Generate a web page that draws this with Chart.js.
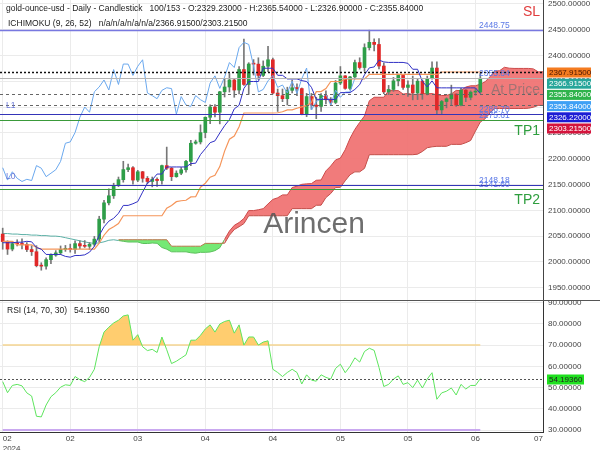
<!DOCTYPE html>
<html>
<head>
<meta charset="utf-8">
<script src="https://cdn.jsdelivr.net/npm/chart.js@4.4.1/dist/chart.umd.min.js"></script>
<style>
  html, body { margin: 0; padding: 0; background: #fff; }
  #wrap { position: relative; width: 600px; height: 450px; overflow: hidden; }
  #main { position: absolute; left: 0; top: 0; }
  #rsi { position: absolute; left: 0; top: 300px; }
</style>
</head>
<body>
<div id="wrap">
  <canvas id="main" width="600" height="300"></canvas>
  <canvas id="rsi" width="600" height="150"></canvas>
</div>
<script>
'use strict';

// daily candles, 02 Feb .. 20 Jun 2024
var opens = [2054.0,2039.5,2024.9,2035.4,2035.0,2033.9,2024.1,2019.8,1992.8,1991.9,
  2004.4,2013.3,2017.6,2024.5,2025.9,2024.3,2035.5,2031.0,2030.3,2034.2,
  2044.2,2082.9,2114.5,2128.2,2148.2,2159.4,2178.9,2182.5,2158.6,2174.7,
  2162.0,2155.9,2160.1,2157.7,2186.6,2181.6,2165.2,2171.9,2178.6,2194.8,
  2229.9,2232.5,2250.6,2280.2,2300.1,2290.0,2329.6,2338.9,2352.5,2333.0,
  2372.7,2343.8,2383.4,2383.2,2361.3,2379.1,2391.6,2327.2,2322.1,2316.2,
  2332.4,2337.4,2335.8,2286.2,2320.3,2303.9,2301.3,2322.3,2314.2,2309.0,
  2346.5,2360.5,2336.2,2358.4,2386.2,2376.6,2415.2,2425.4,2421.3,2379.5,
  2329.4,2334.1,2350.8,2361.3,2338.1,2342.8,2327.3,2350.1,2326.4,2355.0,
  2375.6,2294.5,2310.8,2316.0,2325.2,2303.8,2332.8,2318.9,2329.0,2329.23];
var highs = [2065.5,2041.0,2039.0,2043.0,2045.0,2037.5,2031.5,2031.5,1998.5,2008.0,
  2015.5,2022.0,2031.0,2032.0,2034.5,2041.0,2041.0,2041.5,2037.5,2049.5,
  2088.5,2119.5,2141.5,2152.5,2164.5,2195.0,2189.5,2184.5,2177.5,2175.5,
  2165.5,2164.5,2163.0,2187.5,2222.5,2183.0,2176.5,2183.0,2197.0,2235.5,
  2236.0,2265.5,2281.0,2304.5,2305.0,2330.5,2354.0,2365.0,2354.0,2378.5,
  2431.5,2386.0,2392.0,2395.5,2389.5,2417.5,2395.0,2335.0,2335.0,2338.5,
  2352.5,2345.0,2337.0,2326.5,2326.5,2319.0,2326.0,2331.5,2318.5,2351.5,
  2378.5,2361.0,2359.5,2391.0,2395.5,2422.5,2448.93,2432.0,2432.5,2385.5,
  2342.0,2357.5,2364.0,2363.0,2351.0,2360.0,2354.0,2352.5,2360.0,2387.5,
  2387.5,2313.0,2318.0,2342.5,2325.5,2336.5,2334.0,2331.5,2336.0,2365.54];
var lows = [2024.6,2014.5,2021.5,2031.0,2025.0,2020.0,2012.5,1990.5,1984.0,1986.0,
  1996.5,2011.0,2014.5,2020.5,2019.0,2016.5,2025.5,2028.0,2024.0,2030.5,
  2039.0,2075.5,2110.5,2123.0,2146.0,2154.5,2175.0,2150.5,2155.5,2154.5,
  2151.5,2145.5,2146.5,2150.5,2179.0,2157.5,2164.0,2169.0,2174.0,2186.5,
  2228.0,2228.5,2240.5,2268.0,2281.0,2267.5,2319.5,2329.0,2319.0,2325.5,
  2342.0,2324.5,2362.0,2353.5,2359.0,2368.5,2325.5,2291.5,2310.5,2304.0,
  2327.5,2322.0,2285.0,2281.5,2295.5,2277.5,2291.5,2306.0,2303.0,2306.5,
  2343.5,2334.5,2333.0,2354.5,2373.5,2369.5,2410.5,2409.0,2374.0,2326.0,
  2324.0,2330.5,2341.0,2334.0,2320.5,2314.0,2314.5,2315.0,2323.5,2354.0,
  2287.2,2286.9,2298.5,2304.0,2301.5,2302.0,2310.5,2314.0,2323.0,2326.9];
var closes = [2039.5,2024.9,2035.4,2035.0,2033.9,2024.1,2019.8,1992.8,1991.9,2004.4,
  2013.3,2017.6,2024.5,2025.9,2024.3,2035.5,2031.0,2030.3,2034.2,2044.2,
  2082.9,2114.5,2128.2,2148.2,2159.4,2178.9,2182.5,2158.6,2174.7,2162.0,
  2155.9,2160.1,2157.7,2186.6,2181.6,2165.2,2171.9,2178.6,2194.8,2229.9,
  2232.5,2250.6,2280.2,2300.1,2290.0,2329.6,2338.9,2352.5,2333.0,2372.7,
  2343.8,2383.4,2383.2,2361.3,2379.1,2391.6,2327.2,2322.1,2316.2,2332.4,
  2337.4,2335.8,2286.2,2320.3,2303.9,2301.3,2322.3,2314.2,2309.0,2346.5,
  2360.5,2336.2,2358.4,2386.2,2376.6,2415.2,2425.4,2421.3,2379.5,2329.4,
  2334.1,2350.8,2361.3,2338.1,2342.8,2327.3,2350.1,2326.4,2355.0,2375.6,
  2294.5,2310.8,2316.0,2325.2,2303.8,2332.8,2318.9,2329.0,2329.2,2355.84];

// ichimoku lines
var tenkan = [2037.25,2037.25,2037.25,2038.25,2038.25,2040,2039,2028,2024.75,2014.5,
  2014.5,2014.5,2014.5,2010.75,2009.25,2012.5,2012.5,2013.75,2019,2030.25,
  2051.5,2068,2079,2084.5,2094.25,2109.5,2109.5,2112.75,2117,2135.25,
  2152.75,2159,2170.25,2170.25,2184,2184,2184,2184,2184,2190.5,
  2191.25,2208,2219.25,2231,2234.5,2249.75,2264,2275.75,2296.5,2303.5,
  2336,2349.5,2349.5,2349.5,2375.25,2375.25,2375.25,2361.5,2361.5,2354.5,
  2354.5,2354.5,2351.25,2349.5,2338.25,2315,2315,2315,2315,2314.5,
  2328,2328,2328,2334.25,2343.5,2362.75,2375.97,2377.72,2390.97,2387.47,
  2386.47,2386.47,2386.47,2386.47,2384.72,2373.25,2373.25,2349.75,2339,2350.75,
  2337.35,2337.2,2337.2,2337.2,2337.2,2337.2,2337.2,2337.2,2337.2,2326.22];
var kijun = [2040,2040,2040,2033.25,2033.25,2033.25,2033.25,2028,2024.75,2024.75,
  2024.75,2024.75,2024.75,2024.75,2024.75,2024.75,2024.75,2024.75,2024.75,2024.75,
  2036.25,2051.75,2062.75,2068.25,2074.25,2089.5,2089.5,2089.5,2089.5,2089.5,
  2089.5,2089.5,2089.5,2089.5,2104.25,2109.5,2116.75,2118.5,2119.5,2126,
  2126.25,2144.75,2152.5,2164.25,2167.75,2184.75,2214.75,2237.75,2244,2262,
  2288.5,2288.5,2288.5,2288.5,2288.5,2288.5,2288.5,2289,2291,2294.5,
  2294.5,2297.75,2300.25,2302.75,2309,2329.75,2330,2336,2349.5,2349.5,
  2349.5,2354.5,2354.5,2354.5,2354.5,2354.5,2363.22,2363.22,2363.22,2363.22,
  2363.22,2363.22,2363.22,2363.22,2363.22,2363.22,2363.22,2363.22,2363.22,2363.22,
  2363.22,2367.92,2367.92,2367.92,2367.92,2367.92,2367.92,2367.92,2367.92,2367.92];
// senkou span A, bar 0 .. 125 (26 bars ahead)
var spanA = [2055,2055,2054,2054,2053,2053,2052,2052,2051,2051,
  2050,2050,2049,2047,2045,2043,2041,2039,2037,2036,
  2037,2039,2042,2043,2041.5,2040,
  2038.63,2038.63,2038.63,2035.75,2035.75,2036.63,2036.13,2028,2024.75,2019.63,
  2019.63,2019.63,2019.63,2017.75,2017,2018.63,2018.63,2019.25,2021.88,2027.5,
  2043.88,2059.88,2070.88,2076.38,2084.25,2099.5,2099.5,2101.13,2103.25,2112.38,
  2121.13,2124.25,2129.88,2129.88,2144.13,2146.75,2150.38,2151.25,2151.75,2158.25,
  2158.75,2176.38,2185.88,2197.63,2201.13,2217.25,2239.38,2256.75,2270.25,2282.75,
  2312.25,2319,2319,2319,2331.88,2331.88,2331.88,2325.25,2326.25,2324.5,
  2324.5,2326.13,2325.75,2326.13,2323.63,2322.38,2322.5,2325.5,2332.25,2332,
  2338.75,2341.25,2341.25,2344.38,2349,2358.63,2369.59,2370.47,2377.09,2375.34,
  2374.84,2374.84,2374.84,2374.84,2373.97,2368.23,2368.23,2356.48,2351.11,2356.98,
  2350.28,2352.56,2352.56,2352.56,2352.56,2352.56,2352.56,2352.56,2352.56,2347.07];
// senkou span B, bar 24 .. 125
var spanBStart = 24;
var spanB = [2043,2043,2043,2043,2043,2043,2043,2043,2043,2043,2043,
  2030.5,2030.5,2030.5,2030.5,2030.5,2030.5,2030.5,
  2036,2036,2036,2036,2036.25,
  2051.75,2062.75,2068.25,2074.25,2089.5,
  2089.5,2089.5,2089.5,2089.5,2089.5,2089.5,2089.5,2089.5,
  2103.25,2103.25,2103.25,2103.25,2103.25,2109.75,2110,
  2124.75,2132.5,2144.25,2144.5,2157.25,2169,2174.5,2174.5,2181.25,2207.75,
  2207.75,2207.75,2207.75,2207.75,2207.75,2207.75,2207.75,2207.75,2207.75,
  2208.75,2214,2221.25,2223,2224,2224,2224,2227.75,2227.75,2227.75,
  2231,2235.25,2253.5,2271,2277.25,2288.5,
  2297.22,2297.22,2297.22,2297.22,2297.22,2297.22,2297.22,2297.72,2299.72,2303.22,2303.22,
  2306.47,2308.97,2311.47,2317.72,2338.47,2338.72,2344.72,2358.22,2358.22,2358.22,
  2363.22,2363.22,2363.22];

var rsi = [52.8,47.6,51.0,51.5,50.8,47.5,46.0,36.5,36.2,41.8,
  45.7,47.6,50.2,51.3,51.0,55.2,53.7,52.8,54.8,58.6,
  69.2,76.1,78.4,80.4,81.7,83.7,84.2,72.3,74.9,69.2,
  67.4,68.0,66.5,73.8,67.8,61.3,62.4,63.9,65.4,72.3,
  72.3,74.6,77.6,79.5,76.1,79.9,81.1,81.7,75.6,79.5,
  70.0,73.8,73.8,70.0,71.4,72.0,58.6,57.1,55.2,57.1,
  58.6,57.1,51.7,56.0,53.5,53.0,56.0,54.8,54.0,59.0,
  61.0,57.0,60.0,64.0,62.0,67.0,68.5,67.5,59.5,50.5,
  51.5,54.0,55.5,51.5,52.3,50.0,53.5,49.8,54.0,57.0,
  44.5,47.5,48.3,49.8,46.5,51.5,49.3,51.0,51.0,54.1936];
var rsiBands = [70, 30];

var xTickPos = [0, 14, 28, 42, 56, 70, 84, 98, 112];
var xTickLabels = [['02', '2024'], '02', '03', '04', '04', '05', '05', '06', '07'];
var priceTicks = [1950, 2000, 2050, 2100, 2150, 2200, 2250, 2300, 2350, 2400, 2450, 2500];
var rsiTicks = [30, 40, 50, 60, 70, 80, 90];

var levelValues = [2448.75, 2367.915, 2355.84, 2326.22, 2303.215, 2286.70, 2275.61, 2148.18, 2141.60];
var levelLabels = [2448.75, 2355.84, 2286.70, 2275.61, 2148.18, 2141.60];
var tagValues = [2367.915, 2366.915, 2355.84, 2355.84, 2326.22, 2303.215];

var AXIS_W = 57;
var X_MIN = -0.56, X_MAX = 112;
var GRID = '#ebebeb';
var FONT = '"Liberation Sans", Arial, sans-serif';
Chart.defaults.font.family = FONT;

function pts(arr, start) {
  return arr.map(function (v, n) { return { x: n + start, y: v }; });
}
function aAbove(n) { return spanA[n + spanBStart] > spanB[n]; }

var levelStyle = [
  { color: '#7878e0', width: 1.3 },
  { color: '#111', width: 1.5, dash: [2, 2] },
  { color: '#b4b4b4', width: 1.2 },
  { color: '#666', width: 1, dash: [3, 3] },
  { color: '#666', width: 1, dash: [3, 3] },
  { color: '#3434b8', width: 1.2 },
  { color: '#3a9a3a', width: 1.2 },
  { color: '#3434b8', width: 1.2 },
  { color: '#3a9a3a', width: 1.2 }
];
var tagFill = ['#f47b20', '#26a69a', '#2eb34b', '#3fa0f5', '#1c1cd4', '#d4143c'];
var tagInk = ['#4a1500', '#fff', '#fff', '#fff', '#fff', '#fff'];

var mainOverlay = {
  id: 'mainOverlay',
  afterDatasetsDraw: function (chart) {
    var ctx = chart.ctx, a = chart.chartArea, y = chart.scales.y;
    ctx.save();
    ctx.beginPath();
    ctx.rect(a.left, a.top, a.right - a.left, a.bottom - a.top);
    ctx.clip();
    levelValues.forEach(function (v, i) {
      var st = levelStyle[i];
      var py = Math.round(y.getPixelForValue(v)) + 0.5;
      ctx.strokeStyle = st.color;
      ctx.lineWidth = st.width;
      ctx.setLineDash(st.dash || []);
      ctx.beginPath();
      ctx.moveTo(a.left, py);
      ctx.lineTo(a.right, py);
      ctx.stroke();
    });
    ctx.setLineDash([]);

    ctx.font = '8.5px ' + FONT;
    ctx.fillStyle = '#5a78e6';
    ctx.textAlign = 'left';
    ctx.textBaseline = 'alphabetic';
    levelLabels.forEach(function (v) {
      ctx.fillText(v.toFixed(2), 479, y.getPixelForValue(v) - 2);
    });
    ctx.fillStyle = '#6a78d8';
    ctx.textBaseline = 'middle';
    ctx.fillText('L1', 6, y.getPixelForValue(2303.215));
    ctx.fillText('L0', 6, 177);

    ctx.font = '14px ' + FONT;
    ctx.textAlign = 'right';
    ctx.fillStyle = '#e03c3c';
    ctx.fillText('SL', 540, y.getPixelForValue(2448.75) - 18);
    ctx.fillStyle = '#2e9e3e';
    ctx.fillText('TP1', 540, y.getPixelForValue(2275.61) + 11);
    ctx.fillText('TP2', 540, y.getPixelForValue(2141.60) + 11);
    ctx.fillStyle = 'rgba(110,110,110,0.6)';
    ctx.fillText('At Price', 540, y.getPixelForValue(2355.84) + 12);

    ctx.font = '30px ' + FONT;
    ctx.textAlign = 'center';
    ctx.fillStyle = 'rgba(85,85,85,0.85)';
    ctx.fillText('Arincen', 314, 225);
    ctx.restore();
  },
  afterDraw: function (chart) {
    var ctx = chart.ctx, y = chart.scales.y;
    ctx.save();
    ctx.font = '8.5px ' + FONT;
    ctx.fillStyle = '#222';
    ctx.textAlign = 'left';
    ctx.textBaseline = 'middle';
    ctx.fillText('gold-ounce-usd - Daily - Candlestick   100/153 - O:2329.23000 - H:2365.54000 - L:2326.90000 - C:2355.84000', 6, 9);
    ctx.fillText('ICHIMOKU (9, 26, 52)   n/a/n/a/n/a/n/a/2366.91500/2303.21500', 8, 24);

    var top = Math.round(y.getPixelForValue(tagValues[0])) - 4.5;
    ctx.font = '8px ' + FONT;
    tagValues.forEach(function (v, i) {
      var by = top + i * 11.2;
      ctx.fillStyle = tagFill[i];
      ctx.fillRect(547, by, 44, 10);
      ctx.fillStyle = tagInk[i];
      ctx.fillText(v.toFixed(5), 549, by + 5.2);
    });
    ctx.restore();
  }
};

var bodyColors = opens.map(function (o, i) { return closes[i] >= o ? '#2e9e48' : '#e02828'; });

new Chart(document.getElementById('main'), {
  type: 'bar',
  data: {
    datasets: [
      {
        type: 'line', data: pts(spanA.slice(spanBStart), spanBStart), order: 10,
        borderWidth: 1, pointRadius: 0,
        borderColor: '#cc4a4a',
        segment: { borderColor: function (c) { return aAbove(c.p0DataIndex) ? '#cc4a4a' : '#5cc05c'; } },
        fill: { target: '+1', above: 'rgba(240,112,112,0.92)', below: 'rgba(110,232,110,0.95)' }
      },
      {
        type: 'line', data: pts(spanB, spanBStart), order: 9,
        borderWidth: 1, pointRadius: 0, borderColor: '#c84848',
        segment: { borderColor: function (c) { return aAbove(c.p0DataIndex) ? '#c84848' : '#b07a48'; } }
      },
      {
        type: 'line', data: pts(spanA.slice(0, spanBStart + 1), 0), order: 8,
        borderWidth: 1, pointRadius: 0, borderColor: '#5aafa5'
      },
      {
        type: 'bar', data: highs.map(function (h, i) { return { x: i, y: [lows[i], h] }; }),
        order: 5, grouped: false, barThickness: 1, backgroundColor: '#777'
      },
      {
        type: 'bar', data: opens.map(function (o, i) { return { x: i, y: [o, closes[i]] }; }),
        order: 4, grouped: false, barThickness: 3, minBarLength: 1, backgroundColor: bodyColors
      },
      {
        type: 'line', data: pts(closes.slice(26), 0), order: 3,
        borderWidth: 1, pointRadius: 0, borderColor: '#6aa8ee'
      },
      {
        type: 'line', data: pts(kijun, 0), order: 2,
        borderWidth: 1.2, pointRadius: 0, borderColor: '#f5955a'
      },
      {
        type: 'line', data: pts(tenkan, 0), order: 1,
        borderWidth: 1, pointRadius: 0, borderColor: '#3030c4'
      }
    ]
  },
  options: {
    responsive: false,
    animation: false,
    events: [],
    layout: { padding: 0 },
    plugins: { legend: { display: false }, tooltip: { enabled: false } },
    scales: {
      x: {
        type: 'linear', min: X_MIN, max: X_MAX, offset: false,
        afterBuildTicks: function (s) { s.ticks = xTickPos.map(function (v) { return { value: v }; }); },
        afterFit: function (s) { s.height = 0; s.paddingLeft = 0; s.paddingRight = 0; },
        ticks: { display: false },
        grid: { color: GRID, drawTicks: false, offset: false },
        border: { display: false }
      },
      y: {
        type: 'linear', position: 'right', min: 1926.3, max: 2507.4,
        afterBuildTicks: function (s) { s.ticks = priceTicks.map(function (v) { return { value: v }; }); },
        afterFit: function (s) { s.width = AXIS_W; s.paddingTop = 0; s.paddingBottom = 0; },
        ticks: { callback: function (v) { return v.toFixed(5); }, font: { size: 8 }, color: '#444', padding: 5 },
        grid: { color: GRID, drawTicks: false },
        border: { color: '#444' }
      }
    }
  },
  plugins: [mainOverlay]
});

var rsiOverlay = {
  id: 'rsiOverlay',
  afterDraw: function (chart) {
    var ctx = chart.ctx, a = chart.chartArea, y = chart.scales.y;
    var last = rsi[rsi.length - 1];
    var py = Math.round(y.getPixelForValue(last)) + 0.5;
    ctx.save();
    ctx.fillStyle = '#555';
    ctx.fillRect(0, 0, 600, 1);
    ctx.strokeStyle = '#555';
    ctx.lineWidth = 1;
    ctx.setLineDash([2, 2]);
    ctx.beginPath();
    ctx.moveTo(a.left, py);
    ctx.lineTo(a.right, py);
    ctx.stroke();
    ctx.setLineDash([]);

    ctx.font = '8.5px ' + FONT;
    ctx.fillStyle = '#222';
    ctx.textBaseline = 'middle';
    ctx.fillText('RSI (14, 70, 30)   ' + last.toFixed(5), 7, 11);

    ctx.font = '8px ' + FONT;
    ctx.fillStyle = '#1fe01f';
    ctx.fillRect(547, py - 5, 37, 10);
    ctx.fillStyle = '#222';
    ctx.fillText(last.toFixed(5), 549, py + 0.3);
    ctx.restore();
  }
};

new Chart(document.getElementById('rsi'), {
  type: 'line',
  data: {
    datasets: [
      {
        data: pts(rsi, 0), borderWidth: 1, pointRadius: 0, borderColor: '#5ee55e',
        fill: { target: { value: rsiBands[0] }, above: 'rgba(255,200,95,0.9)', below: 'rgba(0,0,0,0)' }
      },
      {
        data: [{ x: 0, y: rsiBands[0] }, { x: rsi.length - 1, y: rsiBands[0] }],
        borderWidth: 1.5, pointRadius: 0, borderColor: '#f5d590'
      },
      {
        data: [{ x: 0, y: rsiBands[1] }, { x: rsi.length - 1, y: rsiBands[1] }],
        borderWidth: 2, pointRadius: 0, borderColor: '#c9a8f0'
      }
    ]
  },
  options: {
    responsive: false,
    animation: false,
    events: [],
    layout: { padding: 0 },
    plugins: { legend: { display: false }, tooltip: { enabled: false } },
    scales: {
      x: {
        type: 'linear', min: X_MIN, max: X_MAX, offset: false,
        afterBuildTicks: function (s) { s.ticks = xTickPos.map(function (v) { return { value: v }; }); },
        afterFit: function (s) { s.height = 18; s.paddingLeft = 0; s.paddingRight = 0; },
        ticks: {
          callback: function (v, i) { return xTickLabels[i]; },
          font: { size: 8 }, color: '#444', padding: 2, maxRotation: 0, autoSkip: false, align: 'inner'
        },
        grid: { color: GRID, drawTicks: false },
        border: { color: '#333' }
      },
      y: {
        type: 'linear', position: 'right', min: 29.1, max: 91.2,
        afterBuildTicks: function (s) { s.ticks = rsiTicks.map(function (v) { return { value: v }; }); },
        afterFit: function (s) { s.width = AXIS_W; s.paddingTop = 0; s.paddingBottom = 0; },
        ticks: { callback: function (v) { return v.toFixed(5); }, font: { size: 8 }, color: '#444', padding: 5 },
        grid: { color: GRID, drawTicks: false },
        border: { color: '#333' }
      }
    }
  },
  plugins: [rsiOverlay]
});
</script>
</body>
</html>
